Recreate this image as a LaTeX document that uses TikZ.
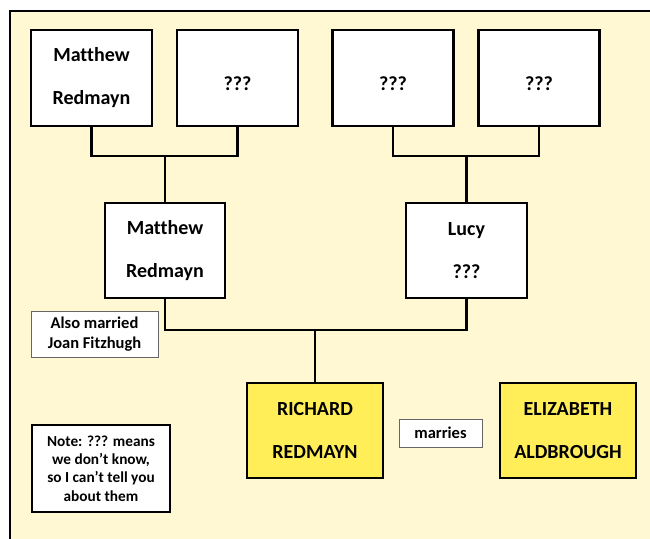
\documentclass[tikz,border=0pt]{standalone}
\usepackage{fontspec}
\setmainfont{Carlito}[Ligatures={NoCommon}]
\definecolor{bgyel}{HTML}{FFF8D2}
\definecolor{boxyel}{HTML}{FFEE58}
\newcommand{\qqq}{\raisebox{-12pt}[0pt][0pt]{???}}
\tikzset{
  person/.style={draw=black, line width=2.6pt, fill=white, minimum width=121pt, minimum height=96pt,
    inner sep=0pt, align=center, font=\bfseries\fontsize{20}{43}\selectfont},
  child/.style={person, fill=boxyel, minimum width=136pt, minimum height=95pt},
  smallnote/.style={draw=black!60, line width=1pt, fill=white, inner sep=0pt, align=center,
    font=\bfseries\fontsize{16.5}{20}\selectfont},
  notebox/.style={draw=black, line width=2.4pt, fill=white, inner sep=0pt, align=center,
    minimum width=138pt, minimum height=87pt, font=\bfseries\fontsize{15.3}{18.3}\selectfont},
  link/.style={draw=black, line width=2.3pt}
}
\begin{document}
\begin{tikzpicture}[x=1pt,y=-1pt]
\useasboundingbox (0,0) rectangle (650,538);
\fill[white] (0,0) rectangle (650,538);
\begin{scope}
\clip (0,0) rectangle (650,538);
\draw[line width=2pt, fill=bgyel] (9.5,10.5) rectangle (680,580);
\end{scope}
% top row
\node[person] (gp1) at (91.5,78) {Matthew\\Redmayn};
\node[person] (gp2) at (237.5,78) {\qqq};
\node[person] (gp3) at (393,78) {\qqq};
\node[person] (gp4) at (539,78) {\qqq};
% middle row
\node[person, minimum width=120pt, minimum height=95pt] (fa) at (165,250.5) {Matthew\\Redmayn};
\node[person, minimum width=121pt, minimum height=95pt] (mo) at (466.5,250.5) {Lucy\\???};
% children
\node[child] (ri) at (315,430.5) {RICHARD\\REDMAYN};
\node[child] (el) at (568,430.5) {ELIZABETH\\ALDBROUGH};
% notes
\node[smallnote, minimum width=83pt, minimum height=28pt] (mar) at (440.5,433) {marries};
\node[smallnote, minimum width=127pt, minimum height=46pt] (also) at (94.5,334) {Also married\\Joan Fitzhugh};
\node[notebox] (note) at (101,468.5) {Note: ??? means\\we don’t know,\\so I can’t tell you\\about them};
% connectors
\coordinate (l1) at (0,156);
\coordinate (l2) at (0,330);
\coordinate (j1) at (fa.north |- l1);
\coordinate (j2) at (mo.north |- l1);
\coordinate (j3) at (ri.north |- l2);
\draw[link] (gp1.south) |- (j1) -| (gp2.south);
\draw[link] (j1) -- (fa.north);
\draw[link] (gp3.south) |- (j2) -| (gp4.south);
\draw[link] (j2) -- (mo.north);
\draw[link] (fa.south) |- (j3) -| (mo.south);
\draw[link] (j3) -- (ri.north);
\end{tikzpicture}
\end{document}
